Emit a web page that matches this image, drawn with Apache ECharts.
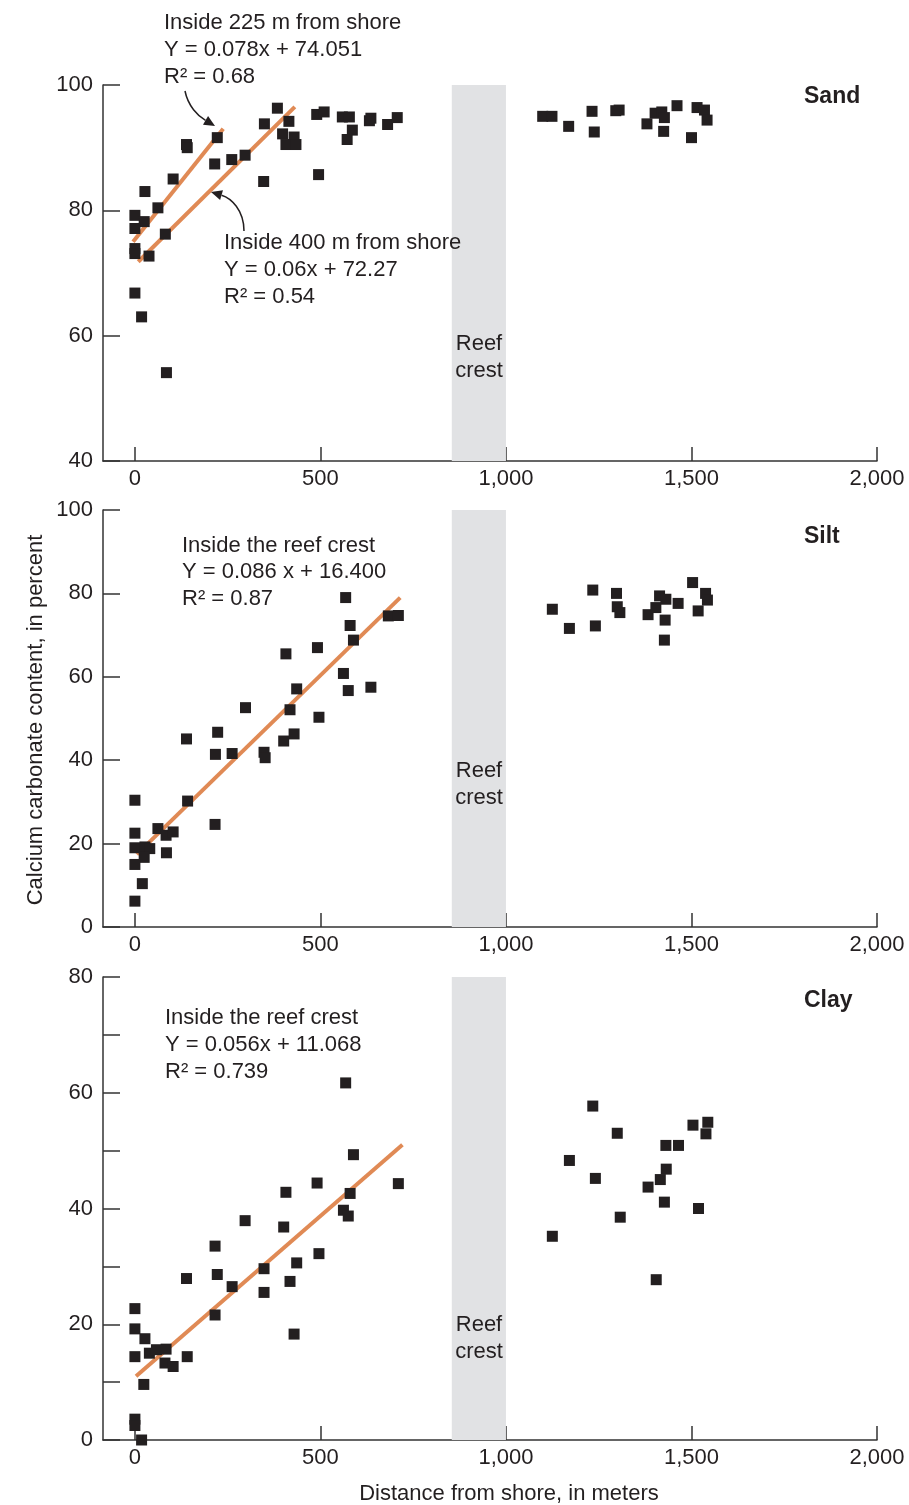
<!DOCTYPE html>
<html>
<head>
<meta charset="utf-8">
<script src="https://cdn.jsdelivr.net/npm/echarts@6/dist/echarts.min.js"></script>
<style>
  html, body { margin: 0; padding: 0; background: #fff; }
  #chart { width: 909px; height: 1505px; }
</style>
</head>
<body>
<div id="chart"></div>
<script>
// distance from shore (m), calcium carbonate (%)
const sandPoints = [
  [0,79.2],[25,78.2],[0,77.1],[82,76.2],[0,73.9],[0,73.1],[38,72.7],[0,66.8],[18,63.0],[85,54.1],
  [27,83.0],[62,80.4],[103,85.0],[139,90.5],[141,90.0],[222,91.6],[215,87.4],[261,88.1],[297,88.8],
  [347,84.6],[349,93.8],[384,96.3],[415,94.2],[398,92.2],[429,91.7],[407,90.5],[434,90.5],[490,95.3],
  [510,95.7],[495,85.7],[559,94.9],[578,94.9],[586,92.8],[572,91.3],[632,94.3],[636,94.7],[681,93.7],[707,94.8],
  [1099,95.0],[1124,95.0],[1169,93.4],[1232,95.8],[1238,92.5],[1296,95.9],[1305,96.0],[1380,93.8],
  [1402,95.5],[1420,95.7],[1427,94.8],[1425,92.6],[1461,96.7],[1515,96.4],[1535,96.0],[1542,94.4],[1500,91.6]
];
const siltPoints = [
  [568,79.0],[683,74.6],[710,74.7],[580,72.3],[589,68.8],[407,65.5],[492,67.0],[562,60.8],[575,56.7],
  [636,57.5],[436,57.1],[298,52.6],[418,52.1],[496,50.3],[223,46.7],[139,45.1],[429,46.3],[401,44.6],
  [217,41.4],[262,41.6],[348,41.9],[351,40.6],[0,30.4],[142,30.2],[216,24.6],[0,22.5],[62,23.6],[84,22.0],
  [103,22.8],[0,19.0],[27,19.2],[40,18.8],[25,16.7],[85,17.8],[0,15.0],[20,10.4],[0,6.2],
  [1125,76.2],[1171,71.6],[1234,80.8],[1241,72.2],[1298,80.0],[1300,76.8],[1307,75.4],[1383,74.9],
  [1404,76.6],[1414,79.4],[1431,78.6],[1464,77.6],[1429,73.6],[1427,68.8],[1503,82.6],[1538,80.0],
  [1543,78.4],[1518,75.8]
];
const clayPoints = [
  [568,61.7],[589,49.3],[491,44.4],[710,44.3],[580,42.6],[407,42.8],[562,39.7],[575,38.7],[297,37.9],
  [401,36.8],[216,33.5],[496,32.2],[436,30.6],[348,29.6],[222,28.6],[139,27.9],[418,27.4],[262,26.5],
  [348,25.5],[216,21.6],[429,18.3],[0,22.7],[0,19.2],[27,17.5],[0,14.4],[39,15.0],[58,15.6],[84,15.7],
  [81,13.3],[103,12.7],[141,14.4],[24,9.6],[0,3.6],[0,2.5],[18,0],
  [1234,57.7],[1300,53.0],[1171,48.3],[1241,45.2],[1308,38.5],[1125,35.2],[1504,54.4],[1544,54.9],
  [1539,52.9],[1431,50.9],[1465,50.9],[1432,46.8],[1416,45.0],[1383,43.7],[1427,41.1],[1519,40.0],[1405,27.7]
];

// regression lines (end points)
const sandFit225 = [[-5,75.0],[238,93.0]];
const sandFit400 = [[9,71.8],[431,96.5]];
const siltFit = [[5,17.4],[715,79.0]];
const clayFit = [[3,11.0],[721,51.0]];

const reefCrest = [854, 1000];
const xTicks = [0, 500, 1000, 1500, 2000];
const clayLabels = [0, 20, 40, 60, 80];

const ink = '#231f20';
const orange = '#e08a55';
const font = "'Liberation Sans', Arial, Helvetica, sans-serif";

const chart = echarts.init(document.getElementById('chart'));

function xAx(i){
  return {
    gridIndex: i, type: 'value', min: -86, max: 2000,
    axisLine: {lineStyle: {color: '#333', width: 1.5}},
    axisTick: {inside: true, length: 14, customValues: xTicks, lineStyle: {color: '#333', width: 1.5}},
    axisLabel: {customValues: xTicks, fontSize: 22, fontFamily: font, color: ink, margin: 7,
      formatter: v => v.toLocaleString('en-US')},
    splitLine: {show: false}
  };
}
function yAx(i, min, max, interval, labels){
  const lab = {fontSize: 22, fontFamily: font, color: ink, margin: 10};
  if (labels) lab.customValues = labels;
  return {
    gridIndex: i, type: 'value', min: min, max: max, interval: interval,
    axisLine: {show: true, onZero: false, lineStyle: {color: '#333', width: 1.5}},
    axisTick: {inside: true, length: 17, lineStyle: {color: '#333', width: 1.5}},
    axisLabel: lab,
    splitLine: {show: false}
  };
}
function dots(i, data){
  return {type: 'scatter', xAxisIndex: i, yAxisIndex: i, data: data, symbol: 'rect',
    symbolSize: 11, clip: false, itemStyle: {color: ink, opacity: 1}, z: 5,
    markArea: {silent: true, itemStyle: {color: '#e1e2e4', opacity: 1},
      data: [[{xAxis: reefCrest[0]}, {xAxis: reefCrest[1]}]]}};
}
function fit(i, data){
  return {type: 'line', xAxisIndex: i, yAxisIndex: i, data: data, symbol: 'none',
    lineStyle: {color: orange, width: 4}, z: 4};
}

function txt(x, y, s, extra){
  return {type: 'text', x: x, y: y, z: 100, style: Object.assign({text: s, fontSize: 22, fontFamily: font,
    fill: ink, verticalAlign: 'middle'}, extra || {})};
}
function arrow(x1, y1, c1x, c1y, c2x, c2y, x2, y2){
  const dx = x2 - c2x, dy = y2 - c2y, l = Math.sqrt(dx*dx + dy*dy);
  const ux = dx / l, uy = dy / l, bx = x2 - 11*ux, by = y2 - 11*uy;
  return [
    {type: 'bezierCurve', z: 100, shape: {x1: x1, y1: y1, cpx1: c1x, cpy1: c1y, cpx2: c2x, cpy2: c2y, x2: bx, y2: by},
      style: {stroke: ink, lineWidth: 1.5, fill: null}},
    {type: 'polygon', z: 100, shape: {points: [[x2, y2], [bx - 5*uy, by + 5*ux], [bx + 5*uy, by - 5*ux]]},
      style: {fill: ink}}
  ];
}

const reefText = (y) => [txt(479, y, 'Reef', {align: 'center'}), txt(479, y + 27, 'crest', {align: 'center'})];

chart.setOption({
  animation: false,
  grid: [
    {left: 103, right: 32, top: 85, height: 376, outerBoundsMode: 'none'},
    {left: 103, right: 32, top: 510, height: 417, outerBoundsMode: 'none'},
    {left: 103, right: 32, top: 977, height: 463, outerBoundsMode: 'none'}
  ],
  xAxis: [xAx(0), xAx(1), xAx(2)],
  yAxis: [yAx(0, 40, 100, 20), yAx(1, 0, 100, 20), yAx(2, 0, 80, 10, clayLabels)],
  series: [
    dots(0, sandPoints), fit(0, sandFit225), fit(0, sandFit400),
    dots(1, siltPoints), fit(1, siltFit),
    dots(2, clayPoints), fit(2, clayFit)
  ],
  graphic: [
    txt(164, 23, 'Inside 225 m from shore'),
    txt(164, 50, 'Y = 0.078x + 74.051'),
    txt(164, 77, 'R² = 0.68'),
    txt(224, 243, 'Inside 400 m from shore'),
    txt(224, 270, 'Y = 0.06x + 72.27'),
    txt(224, 297, 'R² = 0.54'),
    txt(182, 546, 'Inside the reef crest'),
    txt(182, 572, 'Y = 0.086 x + 16.400'),
    txt(182, 599, 'R² = 0.87'),
    txt(165, 1018, 'Inside the reef crest'),
    txt(165, 1045, 'Y = 0.056x + 11.068'),
    txt(165, 1072, 'R² = 0.739'),
    txt(804, 97, 'Sand', {fontWeight: 'bold', fontSize: 23}),
    txt(804, 537, 'Silt', {fontWeight: 'bold', fontSize: 23}),
    txt(804, 1001, 'Clay', {fontWeight: 'bold', fontSize: 23}),
    ...reefText(344), ...reefText(771), ...reefText(1325),
    ...arrow(185, 91, 188, 106, 198, 116, 215, 126),
    ...arrow(244, 231, 244, 210, 231, 198, 211, 192),
    txt(509, 1494, 'Distance from shore, in meters', {align: 'center'}),
    {type: 'text', x: 36, y: 720, z: 100, rotation: Math.PI / 2,
      style: {text: 'Calcium carbonate content, in percent', fontSize: 22, fontFamily: font, fill: ink,
        align: 'center', verticalAlign: 'middle'}}
  ]
});
</script>
</body>
</html>
